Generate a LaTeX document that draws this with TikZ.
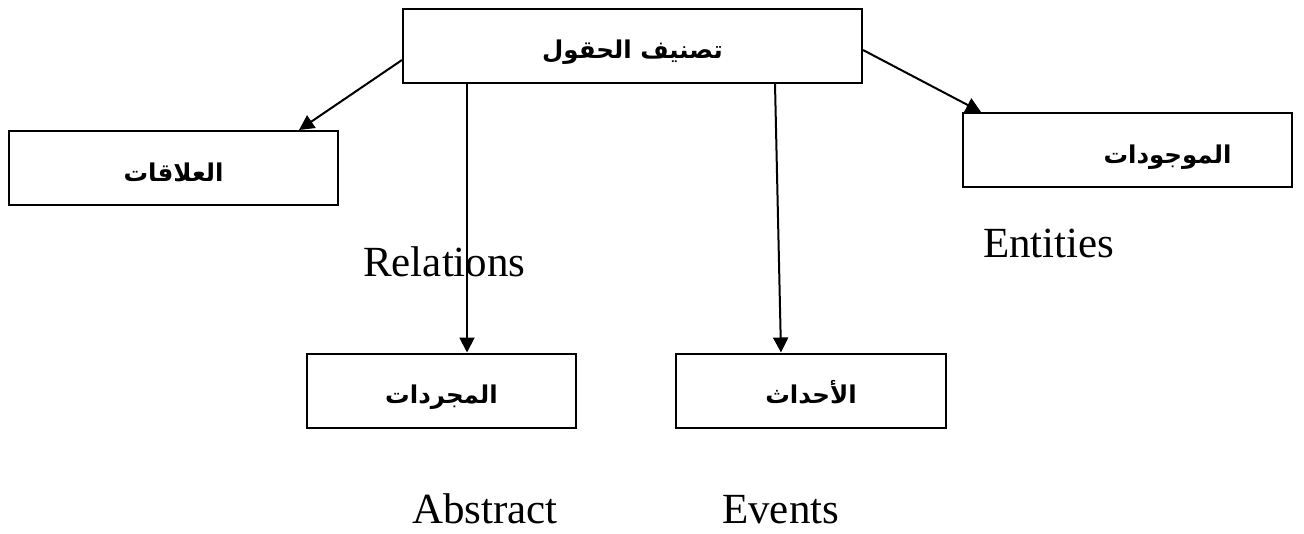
\documentclass[tikz,border=0pt]{standalone}
\usepackage{fontspec}
\setmainfont{Liberation Serif}
\newfontfamily\arabicfont[Script=Arabic]{DejaVu Sans}
\TeXXeTstate=1
\usetikzlibrary{arrows.meta,calc}

% Arabic box label: bold, set on a common baseline a little below the box centre
\newcommand{\ar}[1]{\raisebox{-13pt}[8pt][8pt]{\arabicfont\bfseries\fontsize{24.5}{28}\selectfont\beginR #1\endR}}

\tikzset{
  box/.style={draw, line width=2pt, rectangle, inner sep=0pt, minimum height=74pt},
  link/.style={line width=2pt, -{Triangle[length=15pt,width=15pt]}},
  gloss/.style={anchor=base west, inner sep=0pt, font=\fontsize{43}{50}\selectfont}
}

\begin{document}
\begin{tikzpicture}[x=1pt,y=-1pt]
  \useasboundingbox (0,0) rectangle (1304,533);

  % boxes
  \node[box, minimum width=459pt] (top) at (632.5,45.5) {\ar{تصنيف الحقول}};
  \node[box, minimum width=329pt] (rel) at (173.5,168) {\ar{العلاقات}};
  \node[box, minimum width=329pt] (ent) at (1127.5,150) {\hspace*{80pt}\ar{الموجودات}};
  \node[box, minimum width=269pt] (abs) at (441.5,390.5) {\ar{المجردات}};
  \node[box, minimum width=270pt] (evt) at (811,390.5) {\ar{الأحداث}};

  % English glosses
  \node[gloss] (relt) at (363,276) {Relations};
  \node[gloss] (entt) at (983,257) {Entities};
  \node[gloss] (abst) at (412,523) {Abstract};
  \node[gloss] (evtt) at (722,523) {Events};

  % connectors
  \draw[link] ($(top.west)+(0,14.5)$) -- ($(rel.north east)+(-40,0)$);
  \draw[link] ($(top.east)+(0,4.5)$) -- ($(ent.north west)+(19,0)$);
  \draw[link] ($(top.south west)+(65,0)$) -- ($(abs.north west)+(161,0)$);
  \draw[link] ($(top.south west)+(373,0)$) -- ($(evt.north west)+(106,0)$);
\end{tikzpicture}
\end{document}
